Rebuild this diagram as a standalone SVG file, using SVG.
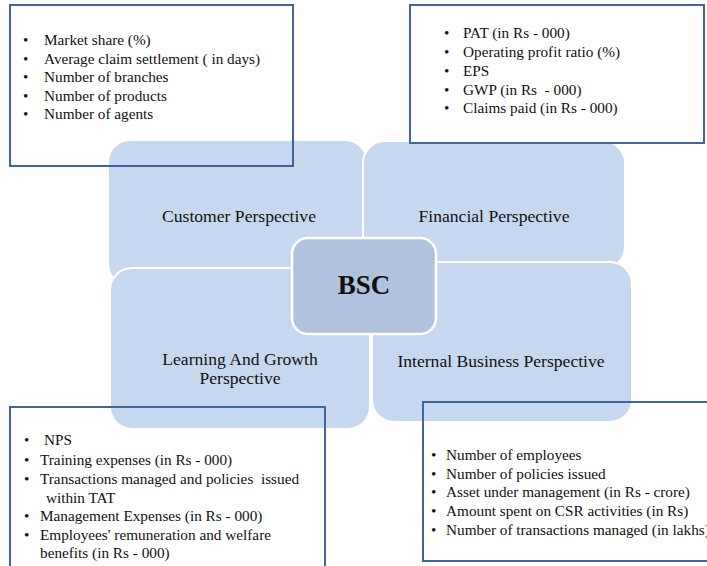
<svg xmlns="http://www.w3.org/2000/svg" width="707" height="566" viewBox="0 0 707 566">
<style>
.p{fill:#c6d8ef;stroke:#ffffff;stroke-width:2}
.c{fill:#b0c2de;stroke:#ffffff;stroke-width:2.5}
.b{fill:none;stroke:#41649a;stroke-width:2}
text{font-family:"Liberation Serif","Times New Roman",serif;fill:#111;white-space:pre}
.t{font-size:15.25px}
.l{font-size:17.6px;text-anchor:middle}
.k{font-size:27px;font-weight:bold;text-anchor:middle}
</style>
<rect width="707" height="566" fill="#ffffff"/>
<g id="customer"><rect class="p" x="108" y="140" width="259" height="146" rx="22"/><text class="l" x="239" y="222">Customer Perspective</text></g>
<g id="financial"><rect class="p" x="363" y="141" width="262" height="128" rx="22"/><text class="l" x="494" y="222">Financial Perspective</text></g>
<g id="learning"><rect class="p" x="110" y="268" width="260" height="161" rx="22"/><text class="l" x="240" y="365">Learning And Growth</text><text class="l" x="240" y="384">Perspective</text></g>
<g id="internal"><rect class="p" x="372" y="262" width="260" height="160" rx="22"/><text class="l" x="501" y="367">Internal Business Perspective</text></g>
<g id="bsc"><rect class="c" x="292" y="238" width="144" height="96" rx="16"/><text class="k" x="364" y="294">BSC</text></g>
<g id="connectors"></g>
<g id="customer-measures"><rect class="b" x="10" y="5" width="283" height="161"/>
<text class="t"><tspan x="23" y="45">•</tspan><tspan x="44" y="45">Market share (%)</tspan><tspan x="23" y="64">•</tspan><tspan x="44" y="64">Average claim settlement ( in days)</tspan><tspan x="23" y="82">•</tspan><tspan x="44" y="82">Number of branches</tspan><tspan x="23" y="101">•</tspan><tspan x="44" y="101">Number of products</tspan><tspan x="23" y="119">•</tspan><tspan x="44" y="119">Number of agents</tspan></text></g>
<g id="financial-measures"><rect class="b" x="410" y="5" width="294" height="138"/>
<text class="t"><tspan x="444" y="38">•</tspan><tspan x="463" y="38">PAT (in Rs - 000)</tspan><tspan x="444" y="57">•</tspan><tspan x="463" y="57">Operating profit ratio (%)</tspan><tspan x="444" y="76">•</tspan><tspan x="463" y="76">EPS</tspan><tspan x="444" y="95">•</tspan><tspan x="463" y="95">GWP (in Rs  - 000)</tspan><tspan x="444" y="113">•</tspan><tspan x="463" y="113">Claims paid (in Rs - 000)</tspan></text></g>
<g id="learning-measures"><rect class="b" x="10" y="407" width="315" height="170"/>
<text class="t"><tspan x="24" y="445">•</tspan><tspan x="44" y="445">NPS</tspan><tspan x="24" y="465">•</tspan><tspan x="40" y="465">Training expenses (in Rs - 000)</tspan><tspan x="24" y="484">•</tspan><tspan x="40" y="484">Transactions managed and policies  issued</tspan><tspan x="46" y="503">within TAT</tspan><tspan x="24" y="521">•</tspan><tspan x="40" y="521">Management Expenses (in Rs - 000)</tspan><tspan x="24" y="540">•</tspan><tspan x="40" y="540">Employees' remuneration and welfare</tspan><tspan x="40" y="558">benefits (in Rs - 000)</tspan></text></g>
<g id="internal-measures"><rect class="b" x="423" y="402" width="290" height="159"/>
<text class="t"><tspan x="431" y="460">•</tspan><tspan x="446" y="460">Number of employees</tspan><tspan x="431" y="479">•</tspan><tspan x="446" y="479">Number of policies issued</tspan><tspan x="431" y="497">•</tspan><tspan x="446" y="497">Asset under management (in Rs - crore)</tspan><tspan x="431" y="516">•</tspan><tspan x="446" y="516">Amount spent on CSR activities (in Rs)</tspan><tspan x="431" y="535">•</tspan><tspan x="446" y="535">Number of transactions managed (in lakhs)</tspan></text></g>
</svg>
